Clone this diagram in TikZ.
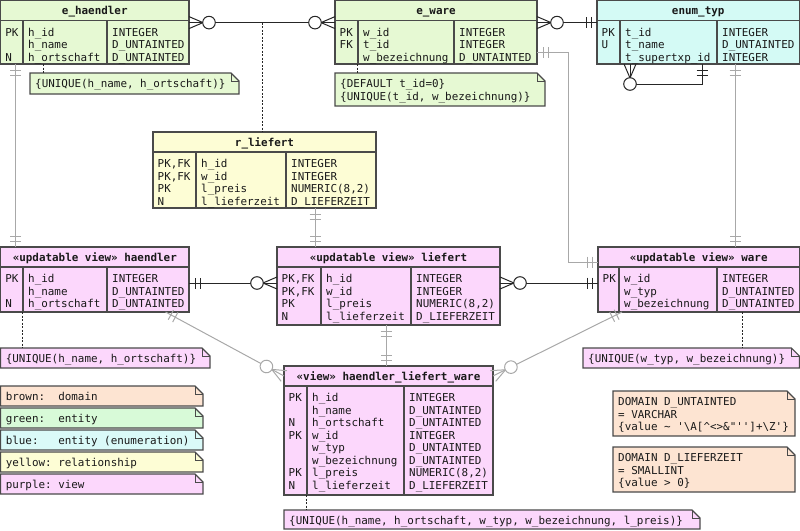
\documentclass[tikz,border=0pt]{standalone}
\usepackage{fontspec}
\setmonofont{DejaVu Sans Mono}
\usetikzlibrary{calc}
\definecolor{cgreen}{HTML}{E6F9D3}
\definecolor{lgreen}{HTML}{D8FAD8}
\definecolor{cblue}{HTML}{D4FAF5}
\definecolor{lblue}{HTML}{DAFAF8}
\definecolor{cyellow}{HTML}{FDFDD5}
\definecolor{cpurple}{HTML}{FCD7FC}
\definecolor{cbrown}{HTML}{FDE4D2}
\definecolor{cborder}{HTML}{4A4A4A}
\definecolor{cgrey}{HTML}{A8A8A8}
\tikzset{
 every node/.style={font=\ttfamily\fontsize{10.9}{12.5}\selectfont, text=black!90},
 tbox/.style={draw=cborder, line width=1.1pt, inner sep=0, outer sep=0},
 tline/.style={draw=cborder, line width=1.1pt},
 ttitle/.style={anchor=base, inner sep=0, font=\ttfamily\bfseries\fontsize{10.9}{12.5}\selectfont},
 ttext/.style={anchor=base west, inner sep=0},
 lblack/.style={draw=black!85, line width=1pt},
 lgrey/.style={draw=cgrey, line width=1pt},
 ndot/.style={draw=black!85, line width=1pt, dash pattern=on 2pt off 1.5pt},
 pics/one/.style={code={\draw[#1] (6,-5.5) -- (6,5.5) (11,-5.5) -- (11,5.5);}},
 pics/manyzero/.style={code={\draw[#1] (0,-6) -- (14,0) -- (0,6); \draw[#1,fill=white] (20,0) circle (6.3);}},
 mk/.style={pos=0, sloped, allow upside down},
}
% name, x0, y0, x1, y1, col1, col2, fill, title
\newcommand\ertable[9]{%
 \node[tbox, fill=#8, minimum width={(#4-#2)*1pt}, minimum height={(#5-#3)*1pt}, anchor=north west] (#1) at (#2,-#3) {};
 \draw[tline] (#2,-#3-20) -- (#4,-#3-20) (#6,-#3-20) -- (#6,-#5) (#7,-#3-20) -- (#7,-#5);
 \node[ttitle] (#1-title) at ({(#2+#4)/2},-#3-14) {#9};
}
% name, x0, col1, col2, header bottom, keys, names, types
\newcommand\ercols[8]{%
 \foreach \etxt [count=\i] in {#6} {\node[ttext] (#1-k\i) at (#2+4.5, -#5-15.5-12.5*\i+12.5) {\etxt};}
 \foreach \etxt [count=\i] in {#7} {\node[ttext] (#1-n\i) at (#3+5, -#5-15.5-12.5*\i+12.5) {\etxt};}
 \foreach \etxt [count=\i] in {#8} {\node[ttext] (#1-t\i) at (#4+5, -#5-15.5-12.5*\i+12.5) {\etxt};}
}
% name, x0, y0, x1, y1, fill, lines
\newcommand\ernote[7]{%
 \node[inner sep=0, outer sep=0, minimum width={(#4-#2)*1pt}, minimum height={(#5-#3)*1pt}, anchor=north west] (#1) at (#2,-#3) {};
 \filldraw[tline, fill=#6] (#2,-#3) -- (#4-8,-#3) -- (#4,-#3-8) -- (#4,-#5) -- (#2,-#5) -- cycle;
 \draw[tline, line width=0.8pt] (#4-8,-#3) -- (#4-8,-#3-8) -- (#4,-#3-8);
 \foreach \etxt [count=\i] in {#7} {\node[ttext] (#1-l\i) at (#2+5, -#3-14.5-12.5*\i+12.5) {\etxt};}
}
\begin{document}
\begin{tikzpicture}[x=1pt, y=1pt]
\useasboundingbox (0,0) rectangle (800,-530);
% ---- tables
\ertable{eh}{0.6}{0.6}{189}{64}{23}{107}{cgreen}{e\_haendler}
\ercols{eh}{0.6}{23}{107}{20.6}{PK,,N}{h\_id,h\_name,h\_ortschaft}{INTEGER,D\_UNTAINTED,D\_UNTAINTED}
\ertable{ew}{335}{0.6}{537}{64}{358}{454}{cgreen}{e\_ware}
\ercols{ew}{335}{358}{454}{20.6}{PK,FK}{w\_id,t\_id,w\_bezeichnung}{INTEGER,INTEGER,D\_UNTAINTED}
\ertable{et}{597}{0.6}{799.4}{64}{620}{717}{cblue}{enum\_typ}
\ercols{et}{597}{620}{717}{20.6}{PK,U}{t\_id,t\_name,t\_supertxp\_id}{INTEGER,D\_UNTAINTED,INTEGER}
\ertable{rl}{153}{132}{376}{208}{196}{286}{cyellow}{r\_liefert}
\ercols{rl}{153}{196}{286}{152}{{PK,FK},{PK,FK},PK,N}{h\_id,w\_id,l\_preis,l\_lieferzeit}{INTEGER,INTEGER,{NUMERIC(8,2)},D\_LIEFERZEIT}
\ertable{vh}{0.6}{247}{189}{312}{23}{107}{cpurple}{«updatable view» haendler}
\ercols{vh}{0.6}{23}{107}{267}{PK,,N}{h\_id,h\_name,h\_ortschaft}{INTEGER,D\_UNTAINTED,D\_UNTAINTED}
\ertable{vl}{277}{247}{500}{325}{321}{411}{cpurple}{«updatable view» liefert}
\ercols{vl}{277}{321}{411}{267}{{PK,FK},{PK,FK},PK,N}{h\_id,w\_id,l\_preis,l\_lieferzeit}{INTEGER,INTEGER,{NUMERIC(8,2)},D\_LIEFERZEIT}
\ertable{vw}{598}{247}{799.4}{312}{619}{717}{cpurple}{«updatable view» ware}
\ercols{vw}{598}{619}{717}{267}{PK}{w\_id,w\_typ,w\_bezeichnung}{INTEGER,D\_UNTAINTED,D\_UNTAINTED}
\ertable{vhlw}{284}{366}{493}{495}{307}{404}{cpurple}{«view» haendler\_liefert\_ware}
\ercols{vhlw}{284}{307}{404}{386}{PK,,N,PK,,,PK,N}{h\_id,h\_name,h\_ortschaft,w\_id,w\_typ,w\_bezeichnung,l\_preis,l\_lieferzeit}{INTEGER,D\_UNTAINTED,D\_UNTAINTED,INTEGER,D\_UNTAINTED,D\_UNTAINTED,{NUMERIC(8,2)},D\_LIEFERZEIT}
% ---- notes
\ernote{ehn}{30}{73}{239}{94}{cgreen}{{\{UNIQUE(h\_name, h\_ortschaft)\}}}
\ernote{ewn}{335}{73}{545}{106}{cgreen}{{\{DEFAULT t\_id=0\}},{\{UNIQUE(t\_id, w\_bezeichnung)\}}}
\ernote{vhn}{0.6}{348}{210}{368}{cpurple}{{\{UNIQUE(h\_name, h\_ortschaft)\}}}
\ernote{vwn}{583}{348}{799.4}{368}{cpurple}{{\{UNIQUE(w\_typ, w\_bezeichnung)\}}}
\ernote{hlwn}{284}{510}{700}{529}{cpurple}{{\{UNIQUE(h\_name, h\_ortschaft, w\_typ, w\_bezeichnung, l\_preis)\}}}
% legend
\ernote{lg1}{0.6}{386}{203}{406}{cbrown}{{brown:\ \ domain}}
\ernote{lg2}{0.6}{408}{203}{428}{lgreen}{{green:\ \ entity}}
\ernote{lg3}{0.6}{430}{203}{450}{lblue}{{blue:\ \ \ entity (enumeration)}}
\ernote{lg4}{0.6}{452}{203}{472}{cyellow}{{yellow: relationship}}
\ernote{lg5}{0.6}{474}{203}{494}{cpurple}{{purple: view}}
% domains
\ernote{dom1}{613}{391}{795}{436}{cbrown}{{DOMAIN D\_UNTAINTED},{= VARCHAR},{\{value \textasciitilde{} '\textbackslash{}A[\textasciicircum{}<>\&"'']+\textbackslash{}Z'\}}}
\ernote{dom2}{613}{447}{795}{492}{cbrown}{{DOMAIN D\_LIEFERZEIT},{= SMALLINT},{\{value > 0\}}}
% ---- dotted note links
\coordinate (d1) at ($(eh.south west)+(43,0)$);
\draw[ndot] (d1) -- (d1 |- ehn.north);
\coordinate (d2) at ($(ew.south west)+(22,0)$);
\draw[ndot] (d2) -- (d2 |- ewn.north);
\coordinate (d3) at ($(vh.south west)+(22,0)$);
\draw[ndot] (d3) -- (d3 |- vhn.north);
\coordinate (d4) at ($(vw.south west)+(144,0)$);
\draw[ndot] (d4) -- (d4 |- vwn.north);
\coordinate (d5) at ($(vhlw.south west)+(22,0)$);
\draw[ndot] (d5) -- (d5 |- hlwn.north);
% ---- connectors
% e_haendler -- e_ware
\coordinate (p1) at ($(eh.north east)+(0,-22)$);
\coordinate (p2) at (p1 -| ew.west);
\draw[lblack] (p1) -- (p2);
\coordinate (pm) at ($(p1)!0.5!(p2)$);
\draw[ndot] (pm) -- (pm |- rl.north);
\path (p1) -- (p2) pic[mk]{manyzero=lblack};
\path (p2) -- (p1) pic[mk]{manyzero=lblack};
% e_ware -- enum_typ
\coordinate (q1) at (p1 -| ew.east);
\coordinate (q2) at (p1 -| et.west);
\draw[lblack] (q1) -- (q2);
\path (q1) -- (q2) pic[mk]{manyzero=lblack};
\path (q2) -- (q1) pic[mk]{one=lblack};
% enum_typ self reference
\coordinate (r1) at ($(et.south west)+(33,0)$);
\coordinate (r2) at ($(et.south west)+(105,0)$);
\draw[lblack] (r1) -- ++(0,-20) -| (r2);
\path (r1) -- ++(0,-20) pic[mk]{manyzero=lblack};
\path (r2) -- ++(0,-20) pic[mk]{one=lblack};
% enum_typ -- ware view
\coordinate (s1) at ($(et.south west)+(138,0)$);
\coordinate (s2) at (s1 |- vw.north);
\draw[lgrey] (s1) -- (s2);
\path (s1) -- (s2) pic[mk]{one=lgrey};
\path (s2) -- (s1) pic[mk]{one=lgrey};
% e_ware -- ware view
\coordinate (t1) at ($(ew.north east)+(0,-52)$);
\coordinate (t2) at ($(vw.north west)+(0,-15)$);
\draw[lgrey] (t1) -- ++(31,0) |- (t2);
\path (t1) -- ++(31,0) pic[mk]{one=lgrey};
\path (t2) -- ++(-30,0) pic[mk]{one=lgrey};
% e_haendler -- haendler view
\coordinate (u1) at ($(eh.south west)+(15,0)$);
\coordinate (u2) at (u1 |- vh.north);
\draw[lgrey] (u1) -- (u2);
\path (u1) -- (u2) pic[mk]{one=lgrey};
\path (u2) -- (u1) pic[mk]{one=lgrey};
% r_liefert -- liefert view
\coordinate (v1) at ($(rl.south west)+(162,0)$);
\coordinate (v2) at (v1 |- vl.north);
\draw[lgrey] (v1) -- (v2);
\path (v1) -- (v2) pic[mk]{one=lgrey};
\path (v2) -- (v1) pic[mk]{one=lgrey};
% haendler view -- liefert view
\coordinate (w1) at ($(vh.north east)+(0,-36)$);
\coordinate (w2) at (w1 -| vl.west);
\draw[lblack] (w1) -- (w2);
\path (w1) -- (w2) pic[mk]{one=lblack};
\path (w2) -- (w1) pic[mk]{manyzero=lblack};
% liefert view -- ware view
\coordinate (x1) at (w1 -| vl.east);
\coordinate (x2) at (w1 -| vw.west);
\draw[lblack] (x1) -- (x2);
\path (x1) -- (x2) pic[mk]{manyzero=lblack};
\path (x2) -- (x1) pic[mk]{one=lblack};
% liefert view -- view haendler_liefert_ware
\coordinate (y1) at ($(vl.south west)+(109,0)$);
\coordinate (y2) at (y1 |- vhlw.north);
\draw[lgrey] (y1) -- (y2);
\path (y1) -- (y2) pic[mk]{one=lgrey};
\path (y2) -- (y1) pic[mk]{one=lgrey};
% haendler view -- view
\coordinate (z1) at ($(vh.south west)+(165,0)$);
\coordinate (z2) at ($(vhlw.north west)+(0,-10)$);
\draw[lgrey] (z1) -- (z2);
\path (z1) -- (z2) pic[mk]{one=lgrey};
\path (z2) -- (z1) pic[mk]{manyzero=lgrey};
% ware view -- view
\coordinate (zz1) at ($(vw.south west)+(24,0)$);
\coordinate (zz2) at ($(vhlw.north east)+(0,-10)$);
\draw[lgrey] (zz1) -- (zz2);
\path (zz1) -- (zz2) pic[mk]{one=lgrey};
\path (zz2) -- (zz1) pic[mk]{manyzero=lgrey};
\end{tikzpicture}
\end{document}
